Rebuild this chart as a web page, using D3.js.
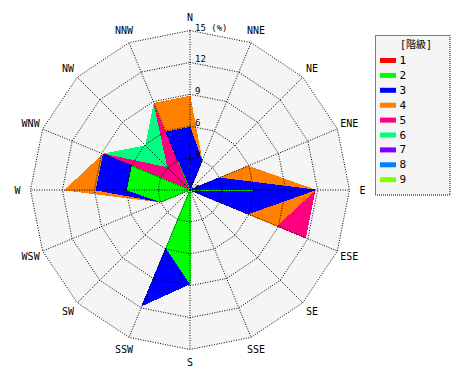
<!DOCTYPE html>
<html>
<head>
<meta charset="utf-8">
<script src="https://cdn.jsdelivr.net/npm/d3@7"></script>
<style>
  html, body { margin: 0; padding: 0; background: #ffffff; }
  svg { display: block; }
  text { font-family: "DejaVu Sans Mono", "Noto Sans CJK JP", monospace; fill: #000; }
</style>
</head>
<body>
<svg id="chart" width="470" height="380"></svg>
<script>
// ---- data (percent frequency per wind direction, per class) ----
const directions = ["N","NNE","NE","ENE","E","ESE","SE","SSE","S","SSW","SW","WSW","W","WNW","NW","NNW"];
const classNames = ["1","2","3","4","5","6","7","8","9"];
const classColors = ["#ff0000","#00ff00","#0000ff","#ff8000","#ff0080","#00ff80","#8000ff","#0080ff","#80ff00"];
const class1 = [0,0,0,0,0,0,0,0,0,0,0,0,0,0,0,0];
const class2 = [0,0,0,0,5.88,0,0,0,8.82,5.88,0,2.94,5.88,5.88,0,2.94];
const class3 = [5.88,2.94,0,2.94,5.88,5.88,0,0,0,5.88,0,0,2.94,2.94,0,2.94];
const class4 = [2.94,0,0,2.94,0,2.94,0,0,0,0,0,0,2.94,0,0,2.94];
const class5 = [0,0,0,0,0,2.94,0,0,0,0,0,0,0,0,2.94,0];
const class6 = [0,0,0,0,0,0,0,0,0,0,0,0,0,0,2.94,0];
const class7 = [0,0,0,0,0,0,0,0,0,0,0,0,0,0,0,0];
const class8 = [0,0,0,0,0,0,0,0,0,0,0,0,0,0,0,0];
const class9 = [0,0,0,0,0,0,0,0,0,0,0,0,0,0,0,0];
const tickValues = [0,3,6,9,12,15];
const tickLabels = ["0","3","6","9","12","15 (%)"];
const legendTitle = "[階級]";

const series = [class1,class2,class3,class4,class5,class6,class7,class8,class9];

// ---- layout ----
const svg = d3.select("#chart");
const cx = 190, cy = 190, R = 159.5;
const r = d3.scaleLinear().domain([0, 15]).range([0, R]);
const ang = d3.scaleLinear().domain([0, directions.length]).range([0, 2 * Math.PI]);
const px = (i, v) => cx + r(v) * Math.sin(ang(i));
const py = (i, v) => cy - r(v) * Math.cos(ang(i));

const g = svg.append("g");

// background polygon
const ringPts = v => directions.map((d, i) => [px(i, v), py(i, v)]);
g.append("polygon")
  .attr("points", ringPts(15).map(p => p.join(",")).join(" "))
  .attr("fill", "#f5f5f5");

// cumulative polygons, drawn from outer class to inner class
const cum = [];
series.forEach((s, k) => {
  cum.push(s.map((v, i) => v + (k > 0 ? cum[k - 1][i] : 0)));
});
for (let k = series.length - 1; k >= 0; k--) {
  const pts = cum[k].map((v, i) => [px(i, v), py(i, v)]);
  g.append("polygon")
    .attr("points", pts.map(p => p.join(",")).join(" "))
    .attr("fill", classColors[k])
    .attr("stroke", classColors[k])
    .attr("stroke-width", 1)
    .attr("stroke-linejoin", "bevel")
    .attr("shape-rendering", "crispEdges");
}

// grid rings
tickValues.filter(v => v > 0).forEach(v => {
  g.append("polygon")
    .attr("points", ringPts(v).map(p => p.join(",")).join(" "))
    .attr("fill", "none")
    .attr("stroke", "#000")
    .attr("stroke-width", 1)
    .attr("stroke-dasharray", "1,1.5");
});
// spokes
directions.forEach((d, i) => {
  g.append("line")
    .attr("x1", cx).attr("y1", cy)
    .attr("x2", px(i, 15)).attr("y2", py(i, 15))
    .attr("stroke", "#000")
    .attr("stroke-width", 1)
    .attr("stroke-dasharray", "1,1.5");
});

// tick labels
tickValues.forEach((v, i) => {
  g.append("text")
    .attr("x", cx + 5)
    .attr("y", cy - r(v) + (v === 0 ? 2 : 0))
    .attr("font-size", 9)
    .text(tickLabels[i]);
});

// direction labels
directions.forEach((d, i) => {
  g.append("text")
    .attr("x", cx + 172.5 * Math.sin(ang(i)))
    .attr("y", cy - 172.5 * Math.cos(ang(i)))
    .attr("text-anchor", "middle")
    .attr("dominant-baseline", "central")
    .attr("font-size", 10)
    .text(d);
});

// legend
const lg = svg.append("g");
lg.append("rect")
  .attr("x", 375.5).attr("y", 35.5)
  .attr("width", 74.5).attr("height", 159.5)
  .attr("fill", "#f5f5f5")
  .attr("stroke", "#000")
  .attr("stroke-dasharray", "1,1");
lg.append("text")
  .attr("x", 416).attr("y", 48)
  .attr("text-anchor", "middle")
  .attr("font-size", 10)
  .attr("fill", "#333")
  .text(legendTitle);
classNames.forEach((c, k) => {
  const y = 60.5 + k * 14.9;
  lg.append("rect")
    .attr("x", 380).attr("y", y - 2.5)
    .attr("width", 16).attr("height", 5)
    .attr("fill", classColors[k]);
  lg.append("text")
    .attr("x", 399.5).attr("y", y)
    .attr("dominant-baseline", "central")
    .attr("font-size", 11)
    .text(c);
});
</script>
</body>
</html>
